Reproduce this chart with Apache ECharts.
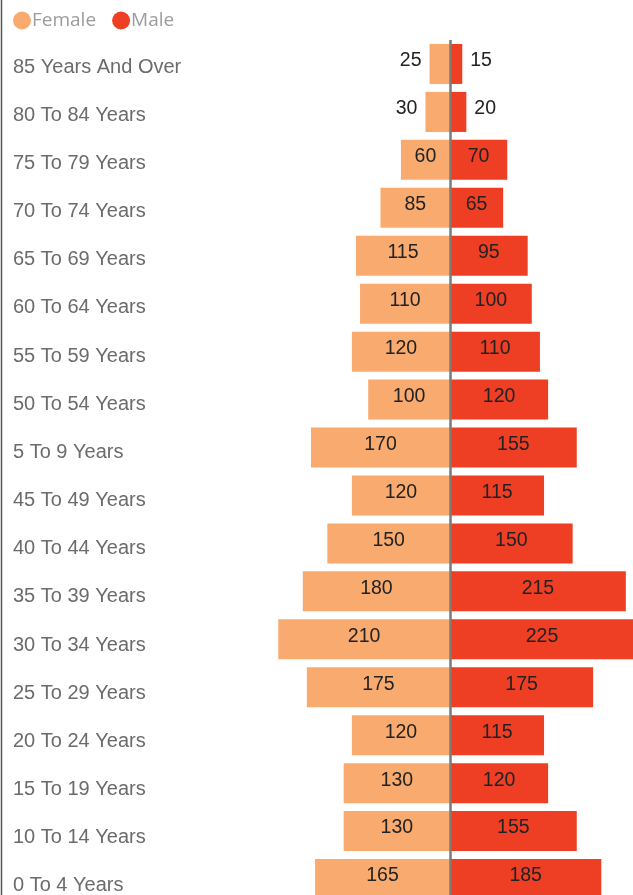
<!DOCTYPE html>
<html>
<head>
<meta charset="utf-8">
<style>
  html, body { margin: 0; padding: 0; background: #fff; overflow: hidden; }
  #chart { width: 640px; height: 910px; }
</style>
<script src="https://cdn.jsdelivr.net/npm/echarts@6/dist/echarts.min.js"></script>
</head>
<body>
<div id="chart"></div>
<script>
// Categories listed bottom-to-top (ECharts category y axis starts at the bottom)
const categories = [
  '0 To 4 Years', '10 To 14 Years', '15 To 19 Years', '20 To 24 Years',
  '25 To 29 Years', '30 To 34 Years', '35 To 39 Years', '40 To 44 Years',
  '45 To 49 Years', '5 To 9 Years', '50 To 54 Years', '55 To 59 Years',
  '60 To 64 Years', '65 To 69 Years', '70 To 74 Years', '75 To 79 Years',
  '80 To 84 Years', '85 Years And Over'
];
const female = [165, 130, 130, 120, 175, 210, 180, 150, 120, 170, 100, 120, 110, 115, 85, 60, 30, 25];
const male   = [185, 155, 120, 115, 175, 225, 215, 150, 115, 155, 120, 110, 100, 95, 65, 70, 20, 15];
const seriesNames = ['Female', 'Male'];

const FEMALE_COLOR = '#F8AA6F';
const MALE_COLOR = '#EE3F25';
const SMALL = 50;

function buildData(values, sign, outsidePos) {
  return values.map(v => {
    const item = { value: sign * v };
    if (v < SMALL) {
      item.label = { position: outsidePos, distance: 8, offset: [0, -3] };
    }
    return item;
  });
}

const labelStyle = {
  show: true,
  position: 'inside',
  offset: [0, -3],
  color: '#222',
  fontFamily: 'Liberation Sans, Arial, sans-serif',
  fontSize: 19.5,
  formatter: p => Math.abs(p.value)
};

const chart = echarts.init(document.getElementById('chart'), null, { renderer: 'canvas' });
chart.setOption({
  animation: false,
  backgroundColor: '#fff',
  legend: {
    left: 8,
    top: 6,
    icon: 'circle',
    itemWidth: 18,
    itemHeight: 18,
    itemGap: 16,
    data: seriesNames,
    textStyle: {
      color: '#9c9c9c',
      fontFamily: 'Open Sans, Noto Sans, sans-serif',
      fontSize: 19,
      padding: [0, 0, 0, -4]
    }
  },
  grid: [
    { left: 266, width: 368, top: 40, height: 863 },
    { left: 13, width: 220, top: 43, height: 867 }
  ],
  xAxis: [
    { type: 'value', gridIndex: 0, min: -225, max: 225, show: false },
    { type: 'value', gridIndex: 1, min: 0, max: 1, show: false }
  ],
  yAxis: [
    {
      type: 'category', gridIndex: 0, data: categories, show: false
    },
    {
      type: 'category', gridIndex: 1, data: categories,
      axisLine: { show: false }, axisTick: { show: false },
      axisLabel: {
        align: 'left', margin: 0, color: '#6b6b6b',
        fontFamily: 'Liberation Sans, Arial, sans-serif', fontSize: 20
      }
    }
  ],
  graphic: [{
    type: 'line',
    shape: { x1: 1.5, y1: 0, x2: 1.5, y2: 910 },
    style: { stroke: '#555', lineWidth: 1.5 },
    silent: true
  }],
  series: [
    {
      name: seriesNames[0],
      type: 'bar',
      xAxisIndex: 0, yAxisIndex: 0,
      barWidth: 40,
      barGap: '-100%',
      itemStyle: { color: FEMALE_COLOR },
      label: labelStyle,
      data: buildData(female, -1, 'left')
    },
    {
      name: seriesNames[1],
      type: 'bar',
      xAxisIndex: 0, yAxisIndex: 0,
      barWidth: 40,
      barGap: '-100%',
      itemStyle: { color: MALE_COLOR },
      label: labelStyle,
      data: buildData(male, 1, 'right'),
      markLine: {
        silent: true,
        symbol: 'none',
        label: { show: false },
        lineStyle: { color: '#7a7a7a', width: 2.5, type: 'solid' },
        data: [{ xAxis: 0 }]
      }
    }
  ]
});
</script>
</body>
</html>
